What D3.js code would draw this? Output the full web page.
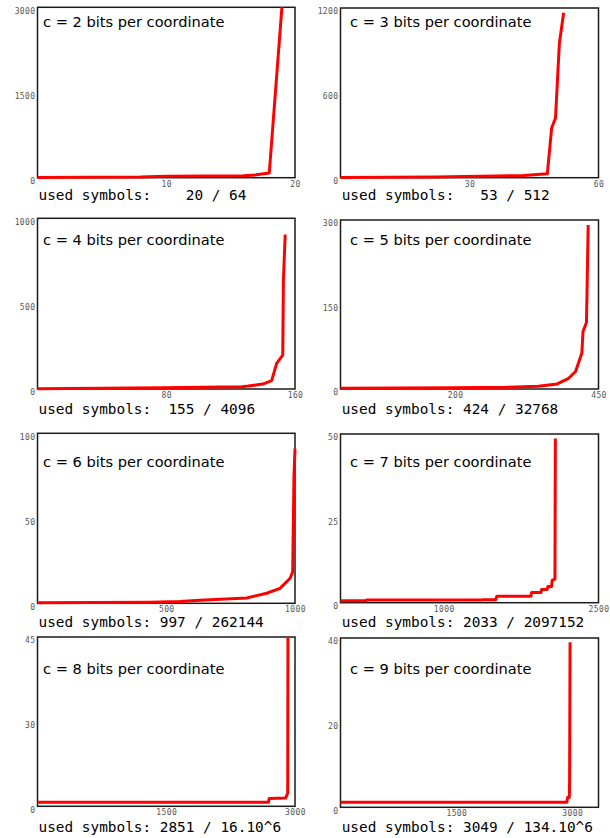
<!DOCTYPE html>
<html><head><meta charset="utf-8">
<script src="https://cdn.jsdelivr.net/npm/d3@7"></script>
<style>body{margin:0;background:#fff}svg{display:block}</style>
</head><body><svg id="chart" width="610" height="838"></svg>
<script>
// ---- data ----
const bits = [2, 3, 4, 5, 6, 7, 8, 9];
const usedLabels = [
  "used symbols:    20 / 64",
  "used symbols:   53 / 512",
  "used symbols:  155 / 4096",
  "used symbols: 424 / 32768",
  "used symbols: 997 / 262144",
  "used symbols: 2033 / 2097152",
  "used symbols: 2851 / 16.10^6",
  "used symbols: 3049 / 134.10^6"
];
const xMax = [20, 60, 160, 450, 1000, 2500, 3000, 3340];
const yMax = [3000, 1200, 1000, 300, 100, 50, 45, 40];
const xTickValues = [[10, 20], [30, 60], [80, 160], [200, 450], [500, 1000], [1000, 2500], [1500, 3000], [1500, 3000]];
const yTickValues = [[0, 1500, 3000], [0, 600, 1200], [0, 500, 1000], [0, 150, 300], [0, 50, 100], [0, 25, 50], [0, 22.5, 45], [0, 20, 40]];
const yTickLabels = [["0", "1500", "3000"], ["0", "600", "1200"], ["0", "500", "1000"], ["0", "150", "300"], ["0", "50", "100"], ["0", "25", "50"], ["0", "30", "45"], ["0", "20", "40"]];

// sorted symbol counts (key points)
const c2X = [0, 8, 10, 16, 17, 18, 19];
const c2Y = [5, 12, 24, 33, 50, 82, 3050];
const c3X = [0, 22, 39.5, 42.6, 48.1, 49.1, 50, 50.9, 51.9];
const c3Y = [2, 5, 14, 16, 28, 351, 421, 951, 1167];
const c4X = [0, 78, 127, 131, 140, 145.5, 148.6, 152.4, 152.8, 153.9];
const c4Y = [2, 8, 13, 17, 29, 49, 150, 199, 637, 905];
const c5X = [0, 194, 287, 345, 378, 398, 410, 421, 423, 429, 430, 432];
const c5Y = [1.5, 2, 3, 5, 9, 19, 31, 64, 102, 118, 173, 291];
const c6X = [0, 437, 553, 631, 812, 890, 942, 981, 991, 993, 996, 1000];
const c6Y = [0.3, 0.6, 1, 1.8, 3.1, 5.9, 8.8, 14.7, 18.6, 41, 74.5, 91];
const c7X = [0, 250, 252, 1380, 1382, 1505, 1515, 1845, 1852, 1942, 1948, 2003, 2009, 2045, 2052, 2078, 2082];
const c7Y = [0.6, 0.6, 0.8, 0.8, 0.9, 0.9, 1.9, 1.9, 3, 3, 3.9, 3.9, 4.8, 4.8, 6.7, 7, 48.7];
const c8X = [0, 2690, 2700, 2890, 2915, 2918];
const c8Y = [1.06, 1.06, 2.1, 2.2, 3.5, 47];
const c9X = [0, 2930, 2940, 2962, 2966, 2972];
const c9Y = [1.2, 1.2, 2.3, 2.3, 6.5, 39];
const seriesX = [c2X, c3X, c4X, c5X, c6X, c7X, c8X, c9X];
const seriesY = [c2Y, c3Y, c4Y, c5Y, c6Y, c7Y, c8Y, c9Y];

// ---- layout ----
const colLeft = [37.5, 340.5];
const colRight = [295, 598.5];
const rowTop = [[7.3, 8], [218.3, 220], [433.3, 434], [637, 638]];
const rowBottom = [[177.7, 177.7], [389, 389], [603.3, 602.7], [806.3, 807.3]];
const titleBase = [27.3, 244.7, 466.7, 673.7];
const usedBase = [200, 414, 627.3, 832];
const titleX = [43, 350];
const usedX = [38.5, 341.7];

const svg = d3.select("#chart");
svg.append("rect").attr("width", 610).attr("height", 838).attr("fill", "#fff");

bits.forEach((b, i) => {
  const row = Math.floor(i / 2), col = i % 2;
  const x0 = colLeft[col], x1 = colRight[col];
  const y0 = rowTop[row][col], y1 = rowBottom[row][col];
  const x = d3.scaleLinear().domain([0, xMax[i]]).range([x0, x1]);
  const y = d3.scaleLinear().domain([0, yMax[i]]).range([y1, y0]);
  const g = svg.append("g");

  const clipId = "clip" + i;
  svg.append("clipPath").attr("id", clipId).append("rect")
    .attr("x", x0 - 4).attr("y", y0).attr("width", x1 - x0 + 8).attr("height", y1 - y0 + 6);

  // y axis
  const ya = g.append("g").attr("transform", `translate(${x0},0)`)
    .call(d3.axisLeft(y).tickValues(yTickValues[i]).tickSize(0).tickPadding(2)
      .tickFormat((d, k) => yTickLabels[i][k]));
  ya.select(".domain").remove();
  ya.selectAll("text").attr("dy", "0.72em")
    .attr("font-family", "DejaVu Sans Mono").attr("font-size", 8).attr("fill", "#555")
    .attr("letter-spacing", 0.4);

  // x axis
  const xa = g.append("g").attr("transform", `translate(0,${y1})`)
    .call(d3.axisBottom(x).tickValues(xTickValues[i]).tickSize(0).tickPadding(3.3)
      .tickFormat(d3.format("d")));
  xa.select(".domain").remove();
  xa.selectAll("text")
    .attr("font-family", "DejaVu Sans Mono").attr("font-size", 8).attr("fill", "#555")
    .attr("letter-spacing", 0.4);

  // frame
  g.append("rect").attr("x", x0).attr("y", y0).attr("width", x1 - x0).attr("height", y1 - y0)
    .attr("fill", "none").attr("stroke", "#1a1a1a").attr("stroke-width", 1.5);

  // curve
  const pts = seriesX[i].map((v, k) => [v, seriesY[i][k]]);
  g.append("path").datum(pts)
    .attr("clip-path", `url(#${clipId})`)
    .attr("d", d3.line().x(d => x(d[0])).y(d => y(d[1])))
    .attr("fill", "none").attr("stroke", "#ff0000").attr("stroke-width", 3)
    .attr("stroke-linejoin", "round");

  // title
  g.append("text").attr("x", titleX[col]).attr("y", titleBase[row])
    .attr("font-family", "DejaVu Sans").attr("font-size", 14.6).attr("fill", "#000")
    .text(`c = ${b} bits per coordinate`);

  // used symbols
  g.append("text").attr("x", usedX[col]).attr("y", usedBase[row])
    .attr("font-family", "DejaVu Sans Mono").attr("font-size", 14.4).attr("fill", "#000")
    .style("white-space", "pre").attr("xml:space", "preserve")
    .text(usedLabels[i]);
});
</script>
</body></html>
